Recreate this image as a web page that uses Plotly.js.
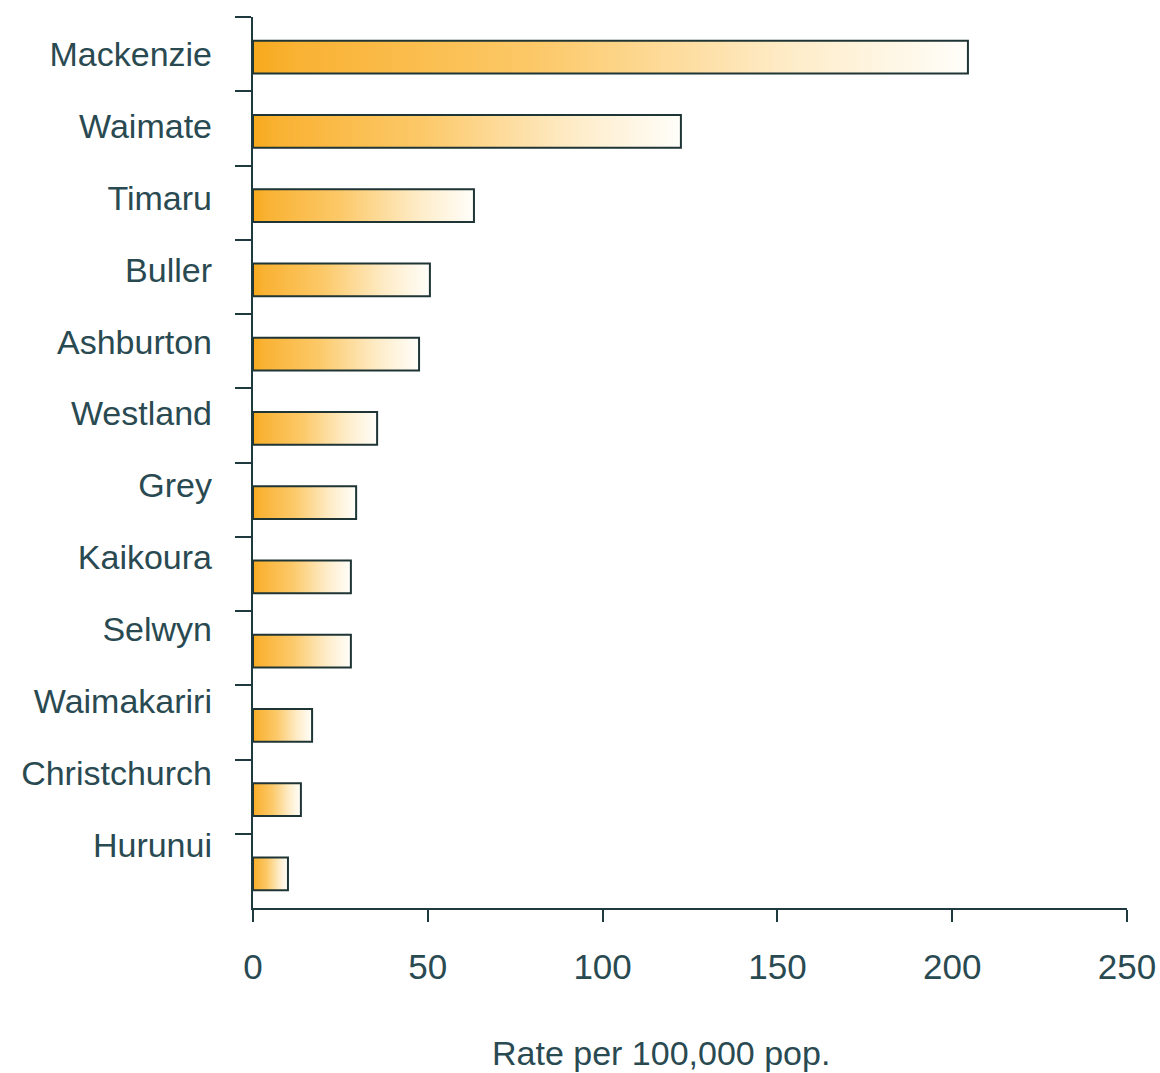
<!DOCTYPE html>
<html>
<head>
<meta charset="utf-8">
<script src="https://cdn.plot.ly/plotly-3.0.1.min.js"></script>
<style>
  html, body { margin: 0; padding: 0; background: #ffffff; }
  #chart { width: 1160px; height: 1073px; }
</style>
</head>
<body>
<div id="chart"></div>
<script>
// ---- data ----
const districts = ["Mackenzie", "Waimate", "Timaru", "Buller", "Ashburton", "Westland",
                   "Grey", "Kaikoura", "Selwyn", "Waimakariri", "Christchurch", "Hurunui"];
const rates = [204.5, 122.4, 63.2, 50.6, 47.5, 35.5, 29.5, 28.0, 28.0, 16.9, 13.7, 10.0];
const xTickValues = [0, 50, 100, 150, 200, 250];
const xAxisTitle = "Rate per 100,000 pop.";

// ---- style ----
const textColor = "#2a4a52";
const lineColor = "#1e3a3e";
const fontFamily = "Liberation Sans, Arial, sans-serif";

const n = districts.length;
const labelIdx = districts.map((_, i) => i);

const trace = {
  type: "bar",
  orientation: "h",
  x: rates,
  y: districts,
  width: 0.44,
  offset: -0.18,
  marker: { color: "#f9b233", line: { color: "#1f3535", width: 2 } },
  hoverinfo: "x+y",
  showlegend: false
};

// invisible helper trace to activate the label axis
const labelTrace = {
  type: "scatter",
  mode: "markers",
  x: labelIdx.map(() => 0),
  y: labelIdx,
  yaxis: "y2",
  marker: { opacity: 0 },
  hoverinfo: "skip",
  showlegend: false
};

// label axis mapping: labels drift slightly upward relative to the bands
const labelSpacingPx = 71.9, plotH = 1073 - 17 - 165, firstLabelPx = 37;
const span = plotH / labelSpacingPx;
const r0 = -firstLabelPx / labelSpacingPx;

const layout = {
  width: 1160,
  height: 1073,
  margin: { l: 253, r: 33, t: 17, b: 165 },
  paper_bgcolor: "#ffffff",
  plot_bgcolor: "#ffffff",
  font: { family: fontFamily, color: textColor },
  bargap: 0.5,
  xaxis: {
    range: [0, 250],
    tickvals: xTickValues,
    ticktext: xTickValues.map(String),
    ticks: "outside",
    ticklen: 12,
    tickwidth: 2,
    tickcolor: lineColor,
    showline: true,
    linecolor: lineColor,
    linewidth: 2,
    showgrid: false,
    zeroline: false,
    tickfont: { size: 35, color: textColor, family: fontFamily },
    ticklabelstandoff: 15,
    fixedrange: true
  },
  yaxis: {
    type: "category",
    categoryorder: "array",
    categoryarray: districts,
    range: [n - 0.5, -0.5],
    tickson: "boundaries",
    ticks: "outside",
    ticklen: 16,
    tickwidth: 2,
    tickcolor: lineColor,
    showticklabels: false,
    showline: true,
    linecolor: lineColor,
    linewidth: 2,
    showgrid: false,
    zeroline: false,
    fixedrange: true
  },
  yaxis2: {
    overlaying: "y",
    side: "left",
    anchor: "x",
    range: [r0 + span, r0],
    tickvals: labelIdx,
    ticktext: districts,
    ticks: "",
    ticklabelstandoff: 40,
    showline: false,
    showgrid: false,
    zeroline: false,
    tickfont: { size: 34, color: textColor, family: fontFamily },
    fixedrange: true
  },
  annotations: [{
    text: xAxisTitle,
    xref: "paper", yref: "paper",
    x: 0.467, y: -0.1627,
    xanchor: "center", yanchor: "middle",
    showarrow: false,
    font: { size: 34, color: textColor, family: fontFamily }
  }]
};

Plotly.newPlot("chart", [trace, labelTrace], layout, { displayModeBar: false, staticPlot: true })
  .then(gd => {
    const svgNS = "http://www.w3.org/2000/svg";
    const svg = gd.querySelector("svg.main-svg");
    let defs = svg.querySelector("defs");
    if (!defs) { defs = document.createElementNS(svgNS, "defs"); svg.insertBefore(defs, svg.firstChild); }
    const grad = document.createElementNS(svgNS, "linearGradient");
    grad.setAttribute("id", "barGrad");
    grad.setAttribute("x1", "0"); grad.setAttribute("y1", "0");
    grad.setAttribute("x2", "1"); grad.setAttribute("y2", "0");
    [["0", "#f6a91c"], ["0.06", "#f9b233"], ["0.4", "#fcc969"], ["0.75", "#feecc8"], ["1", "#fffefa"]]
      .forEach(([o, c]) => {
        const s = document.createElementNS(svgNS, "stop");
        s.setAttribute("offset", o);
        s.setAttribute("stop-color", c);
        grad.appendChild(s);
      });
    defs.appendChild(grad);
    gd.querySelectorAll(".barlayer .point path").forEach(p => { p.style.fill = "url(#barGrad)"; });
  });
</script>
</body>
</html>
